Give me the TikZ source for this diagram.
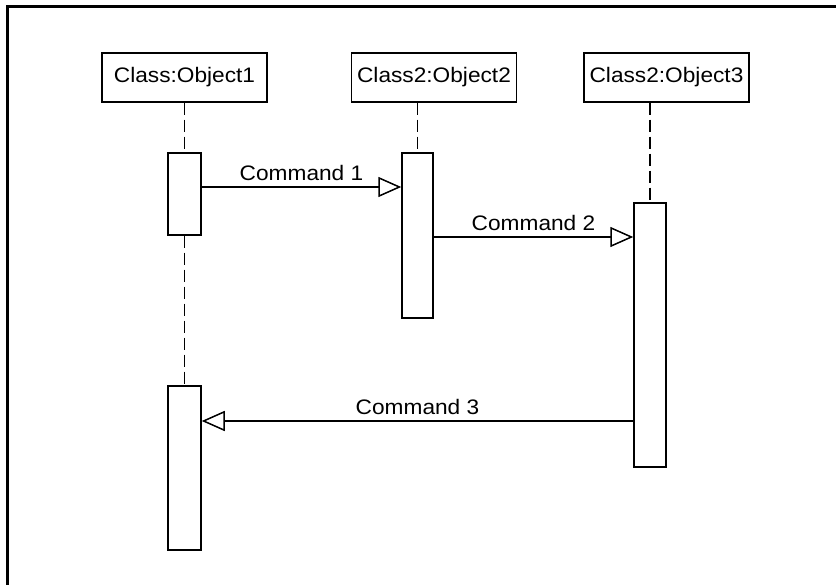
\documentclass[tikz,border=0pt]{standalone}
\usepackage{fontspec}
\setmainfont{Liberation Sans}
\newfontfamily\lbl[FakeStretch=1.08]{Liberation Sans}
\usetikzlibrary{arrows.meta}
\begin{document}
\begin{tikzpicture}[x=1pt,y=-1pt,
  objbox/.style={draw, line width=1.5pt, minimum width=165pt, minimum height=49pt, inner sep=0pt,
    font=\lbl\fontsize{21}{25}\selectfont},
  actbar/.style={draw, line width=1.5pt, fill=white, inner sep=0pt},
  lifeline/.style={line width=1.4pt, dash pattern=on 12pt off 5pt},
  msg/.style={line width=1.5pt, -{Triangle[open, length=23pt, width=20pt, line width=1.5pt]}},
  msglabel/.style={above=6pt, inner sep=0pt, font=\lbl\fontsize{21}{25}\selectfont}]
\useasboundingbox (0,0) rectangle (836,585);
\draw[line width=3pt] (7.5,585) -- (7.5,7) -- (836,7);

\node[objbox] (o1) at (184.5,77.5) {Class:Object1};
\node[objbox] (o2) at (434,77.5) {Class2:Object2};
\node[objbox] (o3) at (666.5,77.5) {Class2:Object3};

\node[actbar, minimum width=33pt, minimum height=82pt] (b1) at (184.5,194) {};
\node[actbar, minimum width=31pt, minimum height=165pt] (b2) at (417.5,235.5) {};
\node[actbar, minimum width=32pt, minimum height=264pt] (b3) at (650,335) {};
\node[actbar, minimum width=33pt, minimum height=164pt] (b4) at (184.5,468) {};

\draw[lifeline] (b1.north |- o1.south) -- (b1.north);
\draw[lifeline] (b2.north |- o2.south) -- (b2.north);
\draw[lifeline] (b3.north |- o3.south) -- (b3.north);
\draw[lifeline] (b1.south) -- (b4.north);

\coordinate (m1) at (0,187);
\coordinate (m2) at (0,237);
\coordinate (m3) at (0,421);
\draw[msg] (b1.east |- m1) -- node[msglabel] {Command 1} (b2.west |- m1);
\draw[msg] (b2.east |- m2) -- node[msglabel] {Command 2} (b3.west |- m2);
\draw[msg] (b3.west |- m3) -- node[msglabel] {Command 3} (b4.east |- m3);
\end{tikzpicture}
\end{document}
